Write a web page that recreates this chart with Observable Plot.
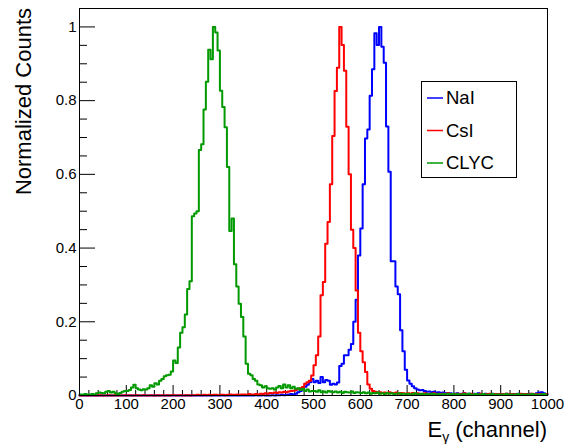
<!DOCTYPE html>
<html><head><meta charset="utf-8">
<script src="https://cdn.jsdelivr.net/npm/d3@7"></script>
<script src="https://cdn.jsdelivr.net/npm/@observablehq/plot@0.6"></script>
<style>html,body{margin:0;padding:0;background:#fff;} svg{display:block;}</style>
</head><body><div id="chart"></div>
<script>
// ---- data ----
const seriesNames = ["NaI", "CsI", "CLYC"];
const seriesColors = ["#0000ff", "#ff0000", "#009900"];
const binWidth = 5; // channels per bin, bins start at 0
const naiCounts = [
  0,0,0,0,0,0,0,0,0,0,0,0,0,0,0,0,0,0,0,0,
  0,0,0,0,0,0,0,0,0,0,0,0,0,0,0,0,0,0,0,0,
  0,0,0,0,0,0,0,0,0,0,0,0,0,0,0,0,0,0,0,0,
  0,0,0,0,0,0,0,0,0,0,0,0,0,0,0,0.001,0,0,0.001,0,
  0,0,0.001,0,0.001,0.001,0.002,0.001,0.002,0.003,0.004,0.003,0.005,0.009,0.012,0.018,0.024,0.029,0.036,0.045,
  0.036,0.040,0.034,0.050,0.036,0.042,0.040,0.029,0.032,0.030,0.035,0.080,0.086,0.109,0.109,0.124,0.140,0.200,0.260,0.380,
  0.453,0.573,0.697,0.722,0.813,0.885,0.983,0.951,1.000,0.946,0.903,0.730,0.607,0.364,0.364,0.296,0.275,0.177,0.120,0.070,
  0.041,0.032,0.025,0.020,0.016,0.014,0.015,0.012,0.010,0.011,0.009,0.010,0.008,0.009,0.007,0.008,0.006,0.007,0.006,0.005,
  0.005,0.006,0.004,0.005,0.006,0.004,0.005,0.003,0.005,0.004,0.006,0.004,0.003,0.005,0.004,0.003,0.005,0.004,0.003,0.004,
  0.004,0.003,0.005,0.004,0.003,0.004,0.003,0.005,0.003,0.004,0.003,0.004,0.005,0.003,0.004,0.006,0.008,0.009,0.006,0.004
];
const csiCounts = [
  0,0,0.001,0,0,0.001,0,0,0.001,0,0,0,0.001,0,0,0.001,0,0,0,0.001,
  0,0.001,0,0,0.001,0,0,0.001,0,0,0.001,0,0,0.001,0,0.001,0,0.001,0,0.001,
  0.001,0,0.001,0.001,0,0.001,0.001,0,0.001,0.001,0.002,0.001,0.001,0.002,0.001,0.002,0.001,0.002,0.002,0.001,
  0.002,0.002,0.001,0.002,0.003,0.002,0.002,0.003,0.002,0.003,0.003,0.002,0.004,0.003,0.003,0.004,0.003,0.005,0.004,0.006,
  0.005,0.007,0.006,0.008,0.007,0.009,0.008,0.010,0.009,0.011,0.012,0.013,0.015,0.018,0.020,0.023,0.032,0.036,0.040,0.054,
  0.082,0.109,0.160,0.272,0.308,0.412,0.471,0.573,0.704,0.826,0.889,1.000,0.951,0.881,0.729,0.600,0.450,0.400,0.285,0.170,
  0.120,0.090,0.064,0.030,0.018,0.012,0.010,0.008,0.009,0.007,0.008,0.006,0.009,0.007,0.006,0.008,0.005,0.007,0.006,0.005,
  0.006,0.005,0.007,0.004,0.006,0.005,0.004,0.006,0.005,0.004,0.005,0.006,0.004,0.005,0.003,0.005,0.004,0.006,0.004,0.003,
  0.004,0.005,0.003,0.004,0.006,0.003,0.004,0.005,0.003,0.004,0.003,0.005,0.004,0.003,0.004,0.005,0.003,0.004,0.003,0.004,
  0.003,0.004,0.005,0.003,0.004,0.003,0.004,0.003,0.005,0.003,0.004,0.003,0.004,0.005,0.003,0.004,0.003,0.004,0.003,0.004
];
const clycCounts = [
  0.003,0.002,0.004,0.003,0.002,0.004,0.003,0.006,0.008,0.007,0.006,0.010,0.012,0.008,0.010,0.006,0.004,0.007,0.010,0.012,
  0.012,0.015,0.022,0.029,0.020,0.016,0.014,0.017,0.016,0.020,0.028,0.024,0.033,0.030,0.040,0.045,0.052,0.055,0.056,0.065,
  0.095,0.088,0.130,0.170,0.185,0.220,0.289,0.310,0.486,0.494,0.500,0.666,0.682,0.776,0.851,0.938,0.912,1.000,0.985,0.936,
  0.827,0.783,0.728,0.620,0.446,0.480,0.356,0.296,0.249,0.213,0.160,0.086,0.059,0.055,0.045,0.040,0.030,0.028,0.022,0.025,
  0.020,0.018,0.020,0.016,0.022,0.026,0.020,0.030,0.022,0.028,0.020,0.024,0.018,0.020,0.015,0.018,0.012,0.016,0.011,0.012,
  0.012,0.010,0.014,0.009,0.011,0.008,0.012,0.010,0.009,0.011,0.008,0.010,0.007,0.010,0.009,0.008,0.011,0.007,0.009,0.008,
  0.007,0.009,0.006,0.008,0.005,0.007,0.006,0.008,0.005,0.006,0.004,0.007,0.005,0.006,0.004,0.005,0.006,0.004,0.005,0.004,
  0.005,0.003,0.004,0.006,0.003,0.004,0.005,0.003,0.004,0.003,0.005,0.004,0.003,0.004,0.002,0.004,0.003,0.005,0.003,0.004,
  0.003,0.004,0.002,0.003,0.004,0.003,0.005,0.002,0.003,0.004,0.003,0.002,0.004,0.003,0.002,0.003,0.004,0.002,0.003,0.003,
  0.002,0.003,0.004,0.002,0.003,0.002,0.003,0.004,0.002,0.003,0.002,0.003,0.002,0.004,0.002,0.003,0.002,0.003,0.004,0.002
];
const xTickValues = [0, 100, 200, 300, 400, 500, 600, 700, 800, 900, 1000];
const yTickValues = [0, 0.2, 0.4, 0.6, 0.8, 1];
const xTitle = ["E", "γ", " (channel)"];
const yTitle = "Normalized Counts";

// ---- layout ----
const W = 566, H = 444;
const mL = 79, mR = 19, mT = 8, mB = 49;
const plotW = W - mL - mR, plotH = H - mT - mB;
const font = "'Liberation Sans', Arial, Helvetica, sans-serif";

const xMinor = d3.range(0, 1001, 20).filter(d => d % 100 !== 0);
const yMinor = d3.range(1, 21).filter(i => i % 4 !== 0).map(i => i * 0.05);

function histPoints(vals, name) {
  const pts = vals.map((v, i) => ({x: i * binWidth, v, name}));
  pts.push({x: vals.length * binWidth, v: vals[vals.length - 1], name});
  return pts;
}
const allSeries = [naiCounts, csiCounts, clycCounts];

const chart = Plot.plot({
  width: W, height: H,
  marginLeft: mL, marginRight: mR, marginTop: mT, marginBottom: mB,
  x: {domain: [0, 1000]},
  y: {domain: [0, 1.05]},
  style: {fontFamily: font, background: "white", color: "black"},
  marks: [
    Plot.axisX(xTickValues, {tickSize: 0, tickPadding: 3, fontSize: 15, label: null, tickFormat: d => String(d), fill: "black"}),
    Plot.axisY(yTickValues, {tickSize: 0, tickPadding: 3, fontSize: 15, label: null, tickFormat: d => String(d), fill: "black"}),
    Plot.tickX(xTickValues, {x: d => d, insetTop: plotH - 10, stroke: "black"}),
    Plot.tickX(xMinor, {x: d => d, insetTop: plotH - 5, stroke: "black"}),
    Plot.tickY(yTickValues, {y: d => d, insetRight: plotW - 16, stroke: "black"}),
    Plot.tickY(yMinor, {y: d => d, insetRight: plotW - 8, stroke: "black"}),
    ...allSeries.map((vals, k) => Plot.line(histPoints(vals, seriesNames[k]), {
      x: "x", y: "v", curve: "step-after", stroke: seriesColors[k], strokeWidth: 2
    })),
    Plot.frame({stroke: "black", strokeWidth: 1})
  ]
});

const svg = d3.select(chart);
// x title with subscript
const xt = svg.append("text")
  .attr("x", W - mR).attr("y", 437)
  .attr("text-anchor", "end")
  .attr("font-family", font).attr("font-size", 22).attr("fill", "black");
xt.append("tspan").text(xTitle[0]);
xt.append("tspan").attr("font-size", 14).attr("dy", 5).text(xTitle[1]);
xt.append("tspan").attr("dy", -5).text(xTitle[2]);
// y title
svg.append("text")
  .attr("transform", `translate(31,${mT}) rotate(-90)`)
  .attr("text-anchor", "end")
  .attr("font-family", font).attr("font-size", 22).attr("fill", "black")
  .text(yTitle);
// legend
const lg = svg.append("g").attr("text-anchor", "start");
lg.append("rect").attr("x", 421.5).attr("y", 81.5).attr("width", 95).attr("height", 96)
  .attr("fill", "white").attr("stroke", "black").attr("stroke-width", 1);
seriesNames.forEach((name, k) => {
  const cy = 98 + k * 32.5;
  lg.append("line").attr("x1", 427).attr("x2", 443).attr("y1", cy).attr("y2", cy)
    .attr("stroke", seriesColors[k]).attr("stroke-width", 1.5);
  lg.append("text").attr("x", 446).attr("y", cy).attr("dy", "0.35em")
    .attr("text-anchor", "start")
    .attr("font-family", font).attr("font-size", 18.5).attr("fill", "black").text(name);
});

document.getElementById("chart").appendChild(chart);
</script>
</body></html>
